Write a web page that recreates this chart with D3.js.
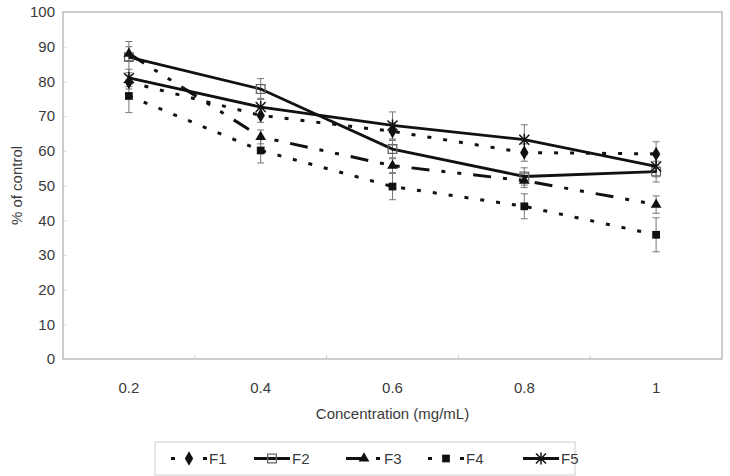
<!DOCTYPE html>
<html>
<head>
<meta charset="utf-8">
<script src="https://cdn.jsdelivr.net/npm/d3@7/dist/d3.min.js"></script>
<style>
  body { margin: 0; background: #fff; }
  text { font-family: "Liberation Sans", Arial, sans-serif; fill: #3a3a3a; }
</style>
</head>
<body>
<div id="chartDiv"></div>
<script>
// data
var concentrations = ["0.2", "0.4", "0.6", "0.8", "1"];
var yTicks = [0, 10, 20, 30, 40, 50, 60, 70, 80, 90, 100];
var seriesNames = ["F1", "F2", "F3", "F4", "F5"];

var f1 = [79.8, 70.2, 65.6, 59.5, 59.1];
var f2 = [87.0, 77.8, 60.5, 52.6, 54.0];
var f3 = [88.0, 64.0, 55.7, 51.4, 44.5];
var f4 = [75.8, 60.1, 49.7, 44.0, 35.8];
var f5 = [81.0, 72.6, 67.3, 63.2, 55.5];

var f1Err = [2.0, 2.0, 2.5, 2.5, 3.5];
var f2Err = [4.5, 3.0, 2.5, 2.5, 3.0];
var f3Err = [2.0, 2.0, 2.0, 2.0, 2.5];
var f4Err = [4.8, 3.6, 3.8, 3.6, 4.9];
var f5Err = [2.5, 2.5, 3.9, 4.3, 3.0];

var values = [f1, f2, f3, f4, f5];
var errors = [f1Err, f2Err, f3Err, f4Err, f5Err];

var styles = [
    {dash: "4,12", width: 3, marker: "diamond"},
    {dash: null, width: 2.8, marker: "openSquare"},
    {dash: "18,12,4,12,4,12", width: 3, marker: "triangle"},
    {dash: "4,12", width: 3, marker: "square"},
    {dash: null, width: 2.8, marker: "star"}
];

var swidth = 730, sheight = 476;
var margin = {top: 12, right: 8, bottom: 117, left: 63};
var width = swidth - margin.left - margin.right,
    height = sheight - margin.top - margin.bottom;

var svg = d3.select("#chartDiv")
    .append("svg")
    .attr("width", swidth)
    .attr("height", sheight);

var g = svg.append("g")
    .attr("transform", "translate(" + margin.left + "," + margin.top + ")");

var x = d3.scaleBand().domain(concentrations).range([0, width]);
var y = d3.scaleLinear().domain([0, 100]).range([height, 0]);
var cx = function(c) { return x(c) + x.bandwidth() / 2; };

// y axis
var yAxis = g.append("g")
    .call(d3.axisLeft(y).tickValues(yTicks).tickSize(-4).tickPadding(8));
yAxis.select(".domain").remove();
yAxis.selectAll("line").attr("stroke", "#ddd");
yAxis.selectAll("text").style("font-size", "15px").attr("fill", "#3a3a3a");

// x axis labels
var xAxis = g.append("g")
    .attr("transform", "translate(0," + height + ")")
    .call(d3.axisBottom(x).tickSize(0).tickPadding(23));
xAxis.select(".domain").remove();
xAxis.selectAll("text").style("font-size", "15px").attr("fill", "#3a3a3a");

// category boundary ticks
g.selectAll(".xtick")
    .data(concentrations.slice(1))
    .enter().append("line")
    .attr("x1", d => x(d)).attr("x2", d => x(d))
    .attr("y1", height).attr("y2", height - 4)
    .attr("stroke", "#ccc");

// plot frame
g.append("rect")
    .attr("width", width).attr("height", height)
    .attr("fill", "none")
    .attr("stroke", "#bdbdbd")
    .attr("stroke-width", 1.5);

// error bars
values.forEach(function(vals, s) {
    var eg = g.append("g").attr("stroke", "#777").attr("stroke-width", 1);
    vals.forEach(function(v, i) {
        var px = cx(concentrations[i]);
        var e = errors[s][i];
        eg.append("line").attr("x1", px).attr("x2", px)
            .attr("y1", y(v + e)).attr("y2", y(v - e));
        [v + e, v - e].forEach(function(t) {
            eg.append("line").attr("x1", px - 3.5).attr("x2", px + 3.5)
                .attr("y1", y(t)).attr("y2", y(t));
        });
    });
});

var line = d3.line()
    .x((d, i) => cx(concentrations[i]))
    .y(d => y(d));

function drawMarker(sel, type) {
    if (type == "diamond")
        sel.append("path").attr("d", d3.symbol(d3.symbolDiamond, 60)).attr("fill", "#111");
    else if (type == "openSquare")
        sel.append("path").attr("d", d3.symbol(d3.symbolSquare, 75))
            .attr("fill", "none").attr("stroke", "#666").attr("stroke-width", 1.3);
    else if (type == "triangle")
        sel.append("path").attr("d", d3.symbol(d3.symbolTriangle, 50)).attr("fill", "#111");
    else if (type == "square")
        sel.append("path").attr("d", d3.symbol(d3.symbolSquare, 60)).attr("fill", "#111");
    else if (type == "star")
        sel.append("path").attr("d", "M-5,-5L5,5M-5,5L5,-5M0,-6L0,6")
            .attr("stroke", "#111").attr("stroke-width", 1.5).attr("fill", "none");
}

// lines + markers
values.forEach(function(vals, s) {
    var st = styles[s];
    g.append("path")
        .datum(vals)
        .attr("fill", "none")
        .attr("stroke", "#111")
        .attr("stroke-width", st.width)
        .attr("stroke-dasharray", st.dash)
        .attr("d", line);
    vals.forEach(function(v, i) {
        var m = g.append("g").attr("transform", "translate(" + cx(concentrations[i]) + "," + y(v) + ")");
        drawMarker(m, st.marker);
    });
});

// axis titles
svg.append("text")
    .attr("transform", "translate(22," + (margin.top + height / 2) + ")rotate(-90)")
    .attr("text-anchor", "middle")
    .style("font-size", "15px")
    .text("% of control");

svg.append("text")
    .attr("x", margin.left + width / 2)
    .attr("y", 419)
    .attr("text-anchor", "middle")
    .style("font-size", "15px")
    .text("Concentration (mg/mL)");

// legend
var legendX = [189, 272, 364, 446, 541];
var legend = svg.append("g");
legend.append("rect")
    .attr("x", 155).attr("y", 442)
    .attr("width", 420).attr("height", 33)
    .attr("fill", "#fff")
    .attr("stroke", "#ccc");

seriesNames.forEach(function(name, s) {
    var st = styles[s];
    var lx = legendX[s], ly = 458.5;
    legend.append("line")
        .attr("x1", lx - 18).attr("x2", lx + 18)
        .attr("y1", ly).attr("y2", ly)
        .attr("stroke", "#111")
        .attr("stroke-width", st.width)
        .attr("stroke-dasharray", st.dash);
    var m = legend.append("g").attr("transform", "translate(" + lx + "," + ly + ")");
    drawMarker(m, st.marker);
    legend.append("text")
        .attr("x", lx + 20).attr("y", ly + 5)
        .style("font-size", "15px")
        .text(name);
});
</script>
</body>
</html>
